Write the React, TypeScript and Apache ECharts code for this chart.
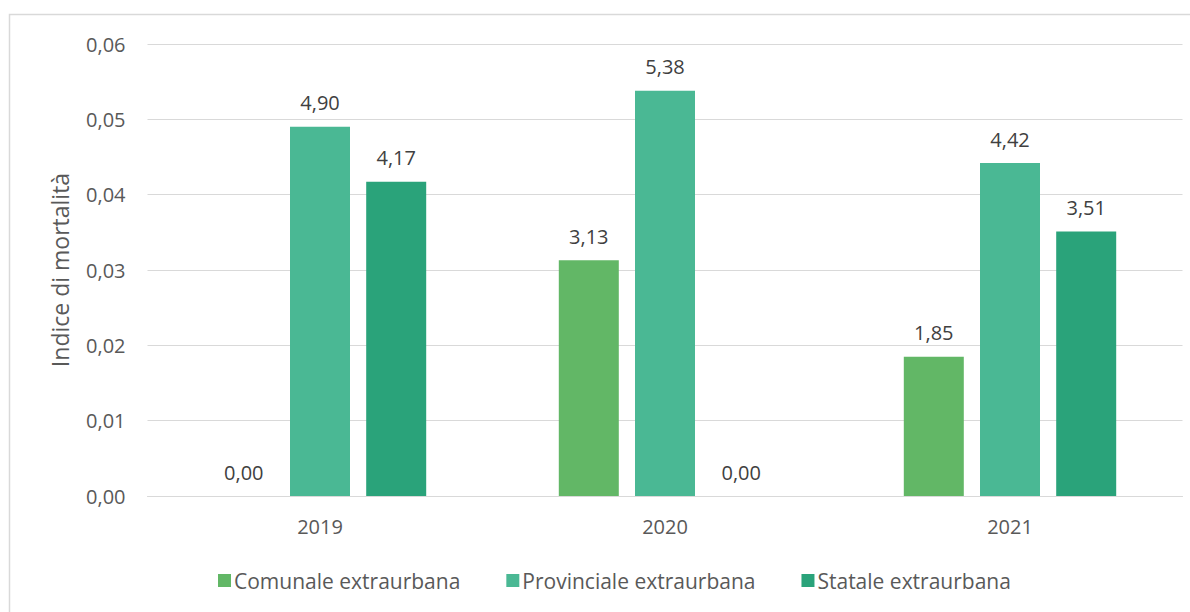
import React, { useEffect, useRef } from "react";
import * as echarts from "echarts";

const categories = ["2019", "2020", "2021"];
const seriesNames = ["Comunale extraurbana", "Provinciale extraurbana", "Statale extraurbana"];
const comunale = [0, 0.0313, 0.0185];
const provinciale = [0.049, 0.0538, 0.0442];
const statale = [0.0417, 0, 0.0351];
const colors = ["#62b766", "#4ab894", "#2aa37a"];

const FONT = "'Open Sans', 'Liberation Sans', sans-serif";
const fmtComma = (v: number, d: number) => v.toFixed(d).replace(".", ",");

export default function App() {
  const ref = useRef<HTMLDivElement>(null);
  useEffect(() => {
    if (!ref.current) return;
    const chart = echarts.init(ref.current, undefined, { renderer: "svg" });
    const dataSets = [comunale, provinciale, statale];
    chart.setOption({
      animation: false,
      backgroundColor: "#ffffff",
      textStyle: { fontFamily: FONT },
      graphic: [
        {
          type: "rect",
          shape: { x: 9.5, y: 14.5, width: 1190, height: 610 },
          style: { fill: "none", stroke: "#d9d9d9", lineWidth: 1.5 },
          silent: true,
        },
      ],
      grid: { left: 147.5, right: 7.5, top: 44, bottom: 116, containLabel: false },
      legend: {
        bottom: 21,
        left: 218,
        padding: 0,
        itemWidth: 13,
        itemHeight: 13,
        itemGap: 46,
        icon: "rect",
        textStyle: { color: "#595959", fontSize: 21, fontFamily: FONT, padding: [0, 0, 0, -2] },
        data: seriesNames,
      },
      xAxis: {
        type: "category",
        data: categories,
        axisTick: { show: false },
        axisLine: { lineStyle: { color: "#d9d9d9", width: 1 } },
        axisLabel: { color: "#595959", fontSize: 20, margin: 20, fontFamily: FONT },
      },
      yAxis: {
        type: "value",
        min: 0,
        max: 0.06,
        interval: 0.01,
        name: "Indice di mortalità",
        nameLocation: "middle",
        nameGap: 76,
        nameTextStyle: { color: "#595959", fontSize: 23, fontFamily: FONT },
        axisLine: { show: false },
        axisTick: { show: false },
        splitLine: { lineStyle: { color: "#d9d9d9", width: 1 } },
        axisLabel: {
          color: "#595959",
          fontSize: 20,
          margin: 22,
          fontFamily: FONT,
          formatter: (v: number) => fmtComma(v, 2),
        },
      },
      series: seriesNames.map((name, i) => ({
        name,
        type: "bar",
        data: dataSets[i],
        barWidth: 60,
        barGap: "27%",
        itemStyle: { color: colors[i] },
        label: {
          show: true,
          position: "top",
          distance: 14,
          color: "#404040",
          fontSize: 20,
          fontFamily: FONT,
          formatter: (p: any) => fmtComma(p.value * 100, 2),
        },
      })),
    });
    return () => chart.dispose();
  }, []);
  return (
    <div
      ref={ref}
      style={{ position: "absolute", left: 0, top: 0, width: 1190, height: 612 }}
    />
  );
}
